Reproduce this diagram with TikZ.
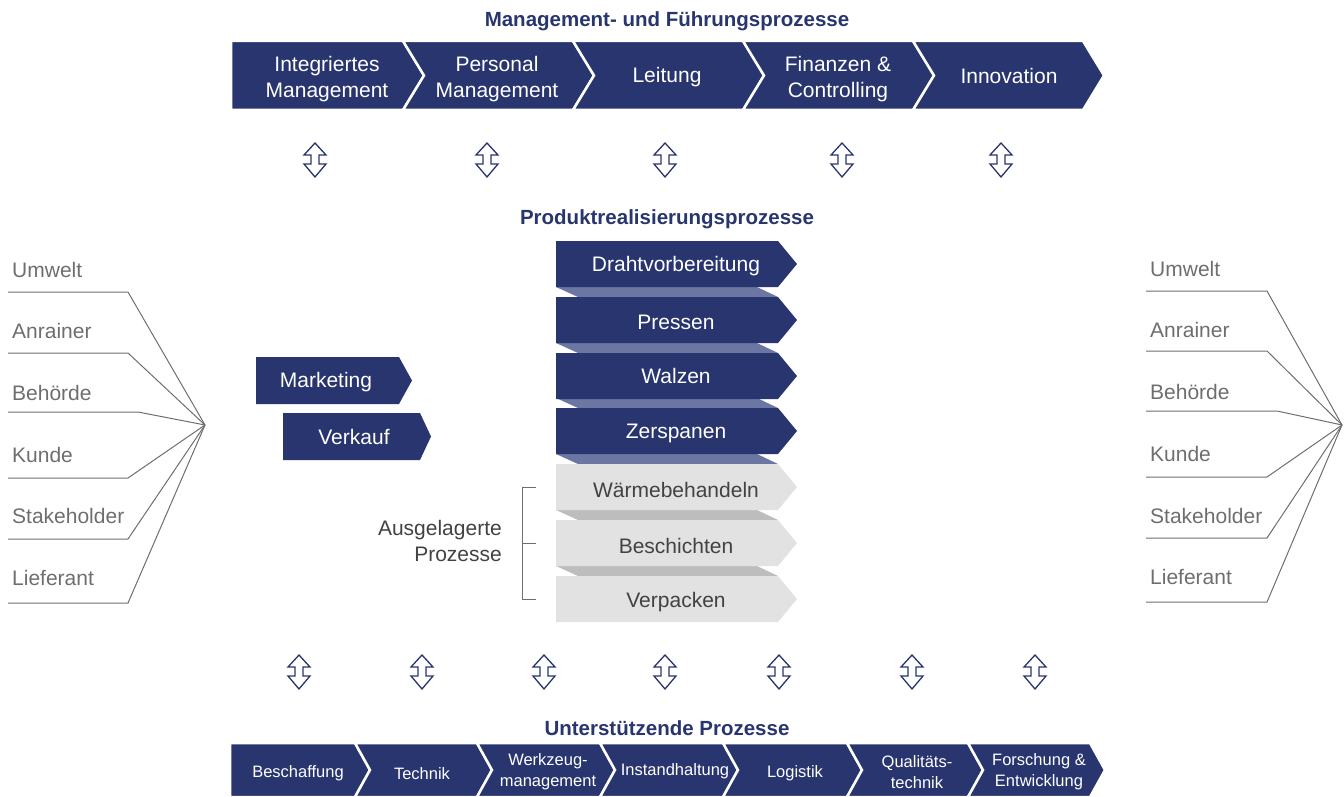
\documentclass[tikz,border=0pt]{standalone}
\usepackage{fontspec}
\setmainfont{Liberation Sans}
\usepackage{tikz}
\definecolor{navy}{HTML}{28356E}
\definecolor{navylight}{HTML}{6C76A2}
\definecolor{greybox}{HTML}{E2E2E2}
\definecolor{greyband}{HTML}{BDBDBD}
\definecolor{greytext}{HTML}{424242}
\definecolor{linegrey}{HTML}{6E6E6E}
\tikzstyle{flowbox} = [fill=navy, draw=white, line width=2.5pt, line join=miter]
\tikzstyle{stackbox} = [fill=navy]
\tikzstyle{outbox} = [fill=greybox]
\tikzstyle{bigtext} = [text=white, font=\fontsize{21}{26}\selectfont, align=center, inner sep=0pt]
\tikzstyle{smalltext} = [text=white, font=\fontsize{16.5}{21}\selectfont, align=center, inner sep=0pt]
\tikzstyle{outtext} = [bigtext, text=greytext]
\tikzstyle{heading} = [text=navy, font=\bfseries\fontsize{20.5}{24}\selectfont, inner sep=0pt]
\tikzstyle{party} = [text=linegrey, font=\fontsize{21}{26}\selectfont, anchor=base west, inner sep=0pt]
\tikzstyle{tie} = [draw=linegrey, line width=1pt]
\tikzset{updown/.pic={
    \draw[navy, fill=white, line width=1.3pt, line join=miter]
      (0,-17) -- (11,-5) -- (4,-5) -- (4,4) -- (11,4) -- (0,17)
      -- (-11,4) -- (-4,4) -- (-4,-5) -- (-11,-5) -- cycle;}}
% style, left x, top y, width, height, tip depth, notch depth
\newcommand{\procshape}[7]{\path[#1] (#2,#3) -- ++(#4,0) -- ++(#6,#5/2)
    -- ++(-#6,#5/2) -- ++(-#4,0) -- ++(#7,-#5/2) -- cycle;}
\newcommand{\band}[3]{\fill[#1] (556,#2) -- (757,#2) -- (778,#3) -- (578,#3) -- cycle;}

\begin{document}
\begin{tikzpicture}[x=1pt, y=-1pt]
    \useasboundingbox (0,0) rectangle (1344,797);
    % Headings
    \node [heading] (hmgmt) at (667,21) {Management- und Führungsprozesse};
    \node [heading] (hprod) at (667,219) {Produktrealisierungsprozesse};
    \node [heading] (hsupp) at (667,728) {Unterstützende Prozesse};
    % Management row
    \procshape{flowbox}{231}{41}{172}{69}{21}{0}
    \procshape{flowbox}{403}{41}{170}{69}{21}{21}
    \procshape{flowbox}{573}{41}{170}{69}{21}{21}
    \procshape{flowbox}{743}{41}{170}{69}{21}{21}
    \procshape{flowbox}{913}{41}{170}{69}{21}{21}
    \node [bigtext] (intmgmt) at (327,79) {Integriertes\\Management};
    \node [bigtext] (persmgmt) at (497,79) {Personal\\Management};
    \node [bigtext] (leitung) at (667,77) {Leitung};
    \node [bigtext] (finanzen) at (838,79) {Finanzen \&\\Controlling};
    \node [bigtext] (innovation) at (1009,76) {Innovation};
    \pic at (315,160) {updown};
    \pic at (487,160) {updown};
    \pic at (665,160) {updown};
    \pic at (842,160) {updown};
    \pic at (1001,160) {updown};
    % Realisation stack
    \band{navylight}{287}{297}
    \band{navylight}{343}{353}
    \band{navylight}{398}{408}
    \band{navylight}{454}{464}
    \band{greyband}{510}{520}
    \band{greyband}{566}{576}
    \procshape{stackbox}{556}{241}{222}{46}{19}{0}
    \procshape{stackbox}{556}{297}{222}{46}{19}{0}
    \procshape{stackbox}{556}{353}{222}{46}{19}{0}
    \procshape{stackbox}{556}{408}{222}{46}{19}{0}
    \procshape{outbox}{556}{464}{222}{46}{19}{0}
    \procshape{outbox}{556}{520}{222}{46}{19}{0}
    \procshape{outbox}{556}{576}{222}{46}{19}{0}
    \node [bigtext] (draht) at (676,266) {Drahtvorbereitung};
    \node [bigtext] (pressen) at (676,322) {Pressen};
    \node [bigtext] (walzen) at (676,376) {Walzen};
    \node [bigtext] (zerspanen) at (676,433) {Zerspanen};
    \node [outtext] (waerme) at (676,490) {Wärmebehandeln};
    \node [outtext] (beschichten) at (676,546) {Beschichten};
    \node [outtext] (verpacken) at (676,602) {Verpacken};
    % Marketing and sales
    \procshape{stackbox}{256}{357}{143}{47}{13}{0}
    \procshape{stackbox}{283}{413}{137}{47}{11}{0}
    \node [bigtext] (marketing) at (326,382) {Marketing};
    \node [bigtext] (verkauf) at (354,437) {Verkauf};
    % Outsourced bracket
    \draw [tie] (536,487) -- (522,487) -- (522,599) -- (536,599);
    \draw [tie] (522,543) -- (536,543);
    \node [outtext, align=right, anchor=east] (ausgelagert) at (502,541) {Ausgelagerte\\Prozesse};
    % Interested parties
    \coordinate (lhub) at (205,425);
    \coordinate (rhub) at (1342,425);
    \foreach \who/\ypos/\xend/\lift [count=\i] in {Umwelt/292/128/15, Anrainer/353/128/15,
        Behörde/412/138/12, Kunde/478/128/16, Stakeholder/539/128/16, Lieferant/603/128/18} {
      \node [party] (lp\i) at (12,\ypos-\lift) {\who};
      \draw [tie] (8,\ypos) -- (\xend,\ypos) -- (lhub);
    }
    \foreach \who/\ypos/\xend/\lift [count=\i] in {Umwelt/291/1267/15, Anrainer/351/1267/14,
        Behörde/411/1277/12, Kunde/477/1267/16, Stakeholder/538/1267/15, Lieferant/602/1267/18} {
      \node [party] (rp\i) at (1150,\ypos-\lift) {\who};
      \draw [tie] (1146,\ypos) -- (\xend,\ypos) -- (rhub);
    }
    % Support row
    \pic at (299,672) {updown};
    \pic at (422,672) {updown};
    \pic at (544,672) {updown};
    \pic at (665,672) {updown};
    \pic at (779,672) {updown};
    \pic at (912,672) {updown};
    \pic at (1035,672) {updown};
    \procshape{flowbox}{230}{743}{125}{54}{15}{0}
    \procshape{flowbox}{355}{743}{122}{54}{15}{15}
    \procshape{flowbox}{477}{743}{123}{54}{15}{15}
    \procshape{flowbox}{600}{743}{123}{54}{15}{15}
    \procshape{flowbox}{723}{743}{124}{54}{15}{15}
    \procshape{flowbox}{847}{743}{121}{54}{15}{15}
    \procshape{flowbox}{968}{743}{122}{54}{15}{15}
    \node [smalltext] (beschaffung) at (298,773) {Beschaffung};
    \node [smalltext] (technik) at (422,774) {Technik};
    \node [smalltext] (werkzeug) at (548,772) {Werkzeug-\\management};
    \node [smalltext] (instand) at (675,771) {Instandhaltung};
    \node [smalltext] (logistik) at (795,773) {Logistik};
    \node [smalltext] (qualitaet) at (917,772) {Qualitäts-\\technik};
    \node [smalltext] (forschung) at (1039,772) {Forschung \&\\Entwicklung};
\end{tikzpicture}
\end{document}
